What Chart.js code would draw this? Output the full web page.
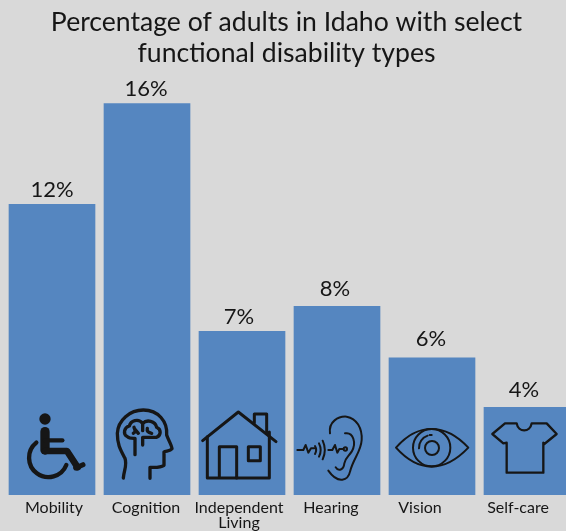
<!DOCTYPE html>
<html>
<head>
<meta charset="utf-8">
<style>
html,body{margin:0;padding:0;background:#d9d9d9;overflow:hidden;width:566px;height:531px}
#w{position:relative;width:566px;height:531px;overflow:hidden}
canvas{display:block}
</style>
<script src="https://cdn.jsdelivr.net/npm/chart.js@4"></script>
</head>
<body>
<div id="w"><canvas id="c" width="575" height="531" style="width:575px;height:531px"></canvas></div>
<script>
const categories = ['Mobility','Cognition',['Independent','Living'],'Hearing','Vision','Self-care'];
const barValues = [11.87,15.98,6.68,7.7,5.6,3.58];
const valueLabels = ['12%','16%','7%','8%','6%','4%'];
const titleLines = ['Percentage of adults in Idaho with select','functional disability types'];
const tickShift = [2,-1,-3,-6,-12,-9];
const labelShiftX = [0,-1,-3,-2,-1,-3];
const labelGap = [7,8,7,10,12,10];
const FONT = 'Lato';
const INK = '#161616';

// icons traced in a 3x space; each has the left edge of its bar in that space
const iconOrigin = [26,312,597,27,312,597];
const icons = [
 {w:13,p:['M108 158A58 58 0 1 0 198 225']},
 {w:10,p:['M370 264C372 240 382 225 375 205C362 180 352 165 352 130C354 90 390 60 430 60C475 60 503 95 500 135C505 150 515 165 516 176C510 184 497 182 492 186V226C480 234 465 232 450 232V265',
          'M405 194V145M428 165V142H470C484 136 484 118 470 112C466 92 440 88 428 100C415 84 392 92 388 108C372 112 368 132 382 140C388 146 400 145 405 145',
          'M402 112C405 120 408 126 400 130M415 130L405 118M428 100V122M442 115C440 124 444 128 455 130']},
 {w:9,p:['M608 152L715 66L828 155','M622 140V264H710V170H658V264','M710 264H808V126','M763 98V72H800V130','M745 170H781V212H745Z']},
 {w:6,p:['M135 130C130 95 160 78 185 80C215 85 232 115 230 150C228 185 205 205 195 245C190 270 160 285 130 242',
         'M180 130C205 125 215 160 200 185C190 200 180 205 178 220C176 240 160 245 152 232',
         'M37 180H55L62 165L70 188L78 175H88','M90 168Q97 180 90 192','M102 160Q112 180 102 200','M113 152Q126 180 113 208',
         'M130 180H142L150 165L157 188L163 177H174','M186 177A5 5 0 1 0 176 177A5 5 0 1 0 186 177']},
 {w:6,p:['M333 173C375 125 410 117 440 117C470 117 510 130 550 173C510 215 470 230 440 230C410 230 375 220 333 173Z',
         'M496 173A56 56 0 1 0 384 173A56 56 0 1 0 496 173','M462 174A21 21 0 1 0 420 174A21 21 0 1 0 462 174',
         'M402 175A38 38 0 0 1 428 137','M434 135L440 135']},
 {w:7,p:['M660 100H695C700 128 735 128 740 100H785L815 132L778 162L775 158V248H665V158L655 160L622 132Z']}
];

const overlay = {
  id:'overlay',
  afterLayout(chart){ chart.titleBlock.left = 0; chart.titleBlock.right = 573; },
  afterDatasetsDraw(chart){
    const ctx = chart.ctx, bars = chart.getDatasetMeta(0).data;
    const base = chart.scales.y.getPixelForValue(0);
    bars.forEach((b,i)=>{
      const left = b.x - b.width/2;
      ctx.save();
      ctx.translate(left - iconOrigin[i]/3, base - 105);
      ctx.scale(1/3,1/3);
      ctx.strokeStyle = INK; ctx.fillStyle = INK;
      ctx.lineWidth = icons[i].w; ctx.lineCap='round'; ctx.lineJoin='round';
      icons[i].p.forEach(d=>ctx.stroke(new Path2D(d)));
      if(i===0){
        ctx.beginPath(); ctx.arc(134,87,17,0,Math.PI*2); ctx.fill();
        ctx.lineWidth=28; ctx.beginPath(); ctx.moveTo(134,125); ctx.lineTo(134,180); ctx.stroke();
        ctx.lineWidth=13; ctx.beginPath(); ctx.moveTo(134,151); ctx.lineTo(186,151); ctx.stroke();
        ctx.lineWidth=20; ctx.beginPath(); ctx.moveTo(134,183); ctx.lineTo(200,183); ctx.lineTo(232,232); ctx.stroke();
        ctx.lineWidth=15; ctx.beginPath(); ctx.moveTo(226,234); ctx.lineTo(248,224); ctx.stroke();
      }
      ctx.restore();
      ctx.save();
      ctx.font = '22px '+FONT; ctx.fillStyle = INK;
      ctx.textAlign='center'; ctx.textBaseline='alphabetic';
      ctx.fillText(valueLabels[i], b.x+labelShiftX[i], b.y-labelGap[i]);
      ctx.restore();
    });
  }
};

new Chart(document.getElementById('c'),{
  type:'bar',
  data:{labels:categories,datasets:[{data:barValues,backgroundColor:'#5586c0',barThickness:86,borderWidth:0}]},
  plugins:[overlay],
  options:{
    responsive:false,animation:false,devicePixelRatio:1,
    layout:{padding:{left:4.5,right:0.5,top:0,bottom:0}},
    plugins:{
      legend:{display:false},tooltip:{enabled:false},
      title:{display:true,text:titleLines,color:INK,font:{family:FONT,size:26.6,lineHeight:1.17,weight:'400'},padding:{top:6.5,bottom:9.8}}
    },
    scales:{
      y:{display:false,min:0,max:17},
      x:{
        grid:{display:false,drawTicks:false},border:{display:false},
        ticks:{color:INK,font:{family:FONT,size:16,lineHeight:0.94},padding:5,maxRotation:0,minRotation:0,autoSkip:false},
        afterFit(scale){
          scale.height = 36;
          if(!scale._shifted){
            scale._shifted = true;
            const base = scale.getPixelForTick;
            scale.getPixelForTick = function(i){ return base.call(this,i)+tickShift[i]; };
          }
        }
      }
    }
  }
});
</script>
</body>
</html>
